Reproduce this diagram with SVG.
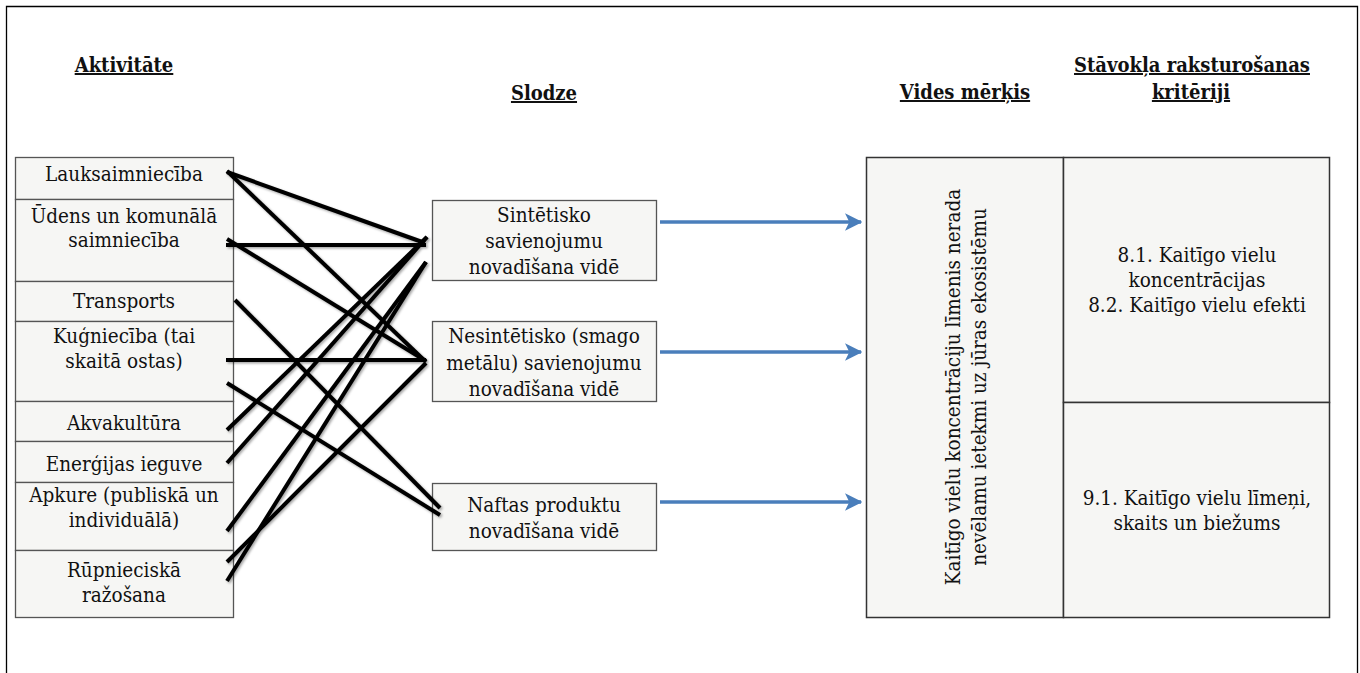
<svg xmlns="http://www.w3.org/2000/svg" width="1360" height="673" viewBox="0 0 1360 673">
<style>
.t{font-family:"DejaVu Serif Condensed","DejaVu Serif",serif;font-size:20.5px;fill:#111;text-anchor:middle}
.h{font-family:"DejaVu Serif Condensed","DejaVu Serif",serif;font-size:20px;font-weight:bold;fill:#111;text-anchor:middle;text-decoration:underline}
.box{fill:#f6f6f4;stroke:#555;stroke-width:1.3}
.rbox{fill:#f6f6f4;stroke:#333;stroke-width:1.5}
.c{stroke:#000;stroke-width:4;fill:none;stroke-linecap:butt}
.a{stroke:#4a7ebb;stroke-width:3.5;fill:none}
</style>
<defs>
<filter id="sh" x="-10%" y="-10%" width="120%" height="120%">
<feDropShadow dx="1.5" dy="1.5" stdDeviation="1" flood-color="#000" flood-opacity="0.35"/>
</filter>
<marker id="ar" viewBox="0 0 12 12" refX="11" refY="6" markerWidth="5" markerHeight="5" orient="auto" markerUnits="strokeWidth">
<path d="M0,0 L12,6 L0,12 L3,6 z" fill="#4a7ebb"/>
</marker>
</defs>
<rect width="1360" height="673" fill="#fff"/>
<path d="M6.5,673 V6.5 H1357.5 V673" fill="none" stroke="#000" stroke-width="1.3"/>

<g id="headers">
<text class="h" x="124" y="72">Aktivitāte</text>
<text class="h" x="544" y="100">Slodze</text>
<text class="h" x="965" y="99">Vides mērķis</text>
<text class="h" x="1192" y="72">Stāvokļa raksturošanas</text>
<text class="h" x="1191" y="99">kritēriji</text>
</g>

<g id="n-lauksaimnieciba"><rect class="box" x="15.5" y="157.5" width="218" height="42"/><text class="t" x="124" y="181">Lauksaimniecība</text></g>
<g id="n-udens"><rect class="box" x="15.5" y="199.5" width="218" height="82"/><text class="t" x="124" y="223">Ūdens un komunālā</text><text class="t" x="124" y="247">saimniecība</text></g>
<g id="n-transports"><rect class="box" x="15.5" y="281.5" width="218" height="40"/><text class="t" x="124" y="308">Transports</text></g>
<g id="n-kugnieciba"><rect class="box" x="15.5" y="321.5" width="218" height="80"/><text class="t" x="124" y="343">Kuģniecība (tai</text><text class="t" x="124" y="368">skaitā ostas)</text></g>
<g id="n-akvakultura"><rect class="box" x="15.5" y="401.5" width="218" height="40"/><text class="t" x="124" y="430">Akvakultūra</text></g>
<g id="n-energija"><rect class="box" x="15.5" y="441.5" width="218" height="41"/><text class="t" x="124" y="471">Enerģijas ieguve</text></g>
<g id="n-apkure"><rect class="box" x="15.5" y="482.5" width="218" height="68"/><text class="t" x="124" y="502">Apkure (publiskā un</text><text class="t" x="124" y="527">individuālā)</text></g>
<g id="n-rupnieciska"><rect class="box" x="15.5" y="550.5" width="218" height="67"/><text class="t" x="124" y="577">Rūpnieciskā</text><text class="t" x="124" y="602">ražošana</text></g>

<g id="n-sintetisko"><rect class="box" x="432.5" y="200.5" width="224" height="80"/><text class="t" x="544" y="222">Sintētisko</text><text class="t" x="544" y="248">savienojumu</text><text class="t" x="544" y="274">novadīšana vidē</text></g>
<g id="n-nesintetisko"><rect class="box" x="432.5" y="321.5" width="224" height="80"/><text class="t" x="544" y="343">Nesintētisko (smago</text><text class="t" x="544" y="370">metālu) savienojumu</text><text class="t" x="544" y="396">novadīšana vidē</text></g>
<g id="n-naftas"><rect class="box" x="432.5" y="483.5" width="224" height="67"/><text class="t" x="544" y="512">Naftas produktu</text><text class="t" x="544" y="538">novadīšana vidē</text></g>

<g id="n-merkis"><rect class="rbox" x="866.5" y="157.5" width="197" height="460"/>
<text class="t" transform="translate(960,387) rotate(-90)" x="0" y="0">Kaitīgo vielu koncentrāciju līmenis nerada</text>
<text class="t" transform="translate(986,387) rotate(-90)" x="0" y="0">nevēlamu ietekmi uz jūras ekosistēmu</text></g>
<g id="n-krit8"><rect class="rbox" x="1063.5" y="157.5" width="266" height="245"/><text class="t" x="1197" y="262">8.1. Kaitīgo vielu</text><text class="t" x="1197" y="287">koncentrācijas</text><text class="t" x="1197" y="312">8.2. Kaitīgo vielu efekti</text></g>
<g id="n-krit9"><rect class="rbox" x="1063.5" y="402.5" width="266" height="215"/><text class="t" x="1197" y="505">9.1. Kaitīgo vielu līmeņi,</text><text class="t" x="1197" y="530">skaits un biežums</text></g>

<g id="connectors">
<g filter="url(#sh)">
<line class="c" x1="227" y1="172" x2="425" y2="243"/>
<line class="c" x1="227" y1="171" x2="426" y2="362"/>
<line class="c" x1="226" y1="245" x2="426" y2="245"/>
<line class="c" x1="227" y1="239" x2="426" y2="361"/>
<line class="c" x1="235" y1="300" x2="440" y2="508"/>
<line class="c" x1="226" y1="360" x2="426" y2="360"/>
<line class="c" x1="227" y1="383" x2="440" y2="515"/>
<line class="c" x1="227" y1="430" x2="427" y2="237"/>
<line class="c" x1="227" y1="463" x2="427" y2="237"/>
<line class="c" x1="227" y1="531" x2="426" y2="262"/>
<line class="c" x1="227" y1="562" x2="426" y2="363"/>
<line class="c" x1="227" y1="581" x2="426" y2="262"/>
</g>
<line class="a" x1="660" y1="222" x2="861" y2="222" marker-end="url(#ar)"/>
<line class="a" x1="660" y1="352" x2="861" y2="352" marker-end="url(#ar)"/>
<line class="a" x1="660" y1="502" x2="861" y2="502" marker-end="url(#ar)"/>
</g>
</svg>
